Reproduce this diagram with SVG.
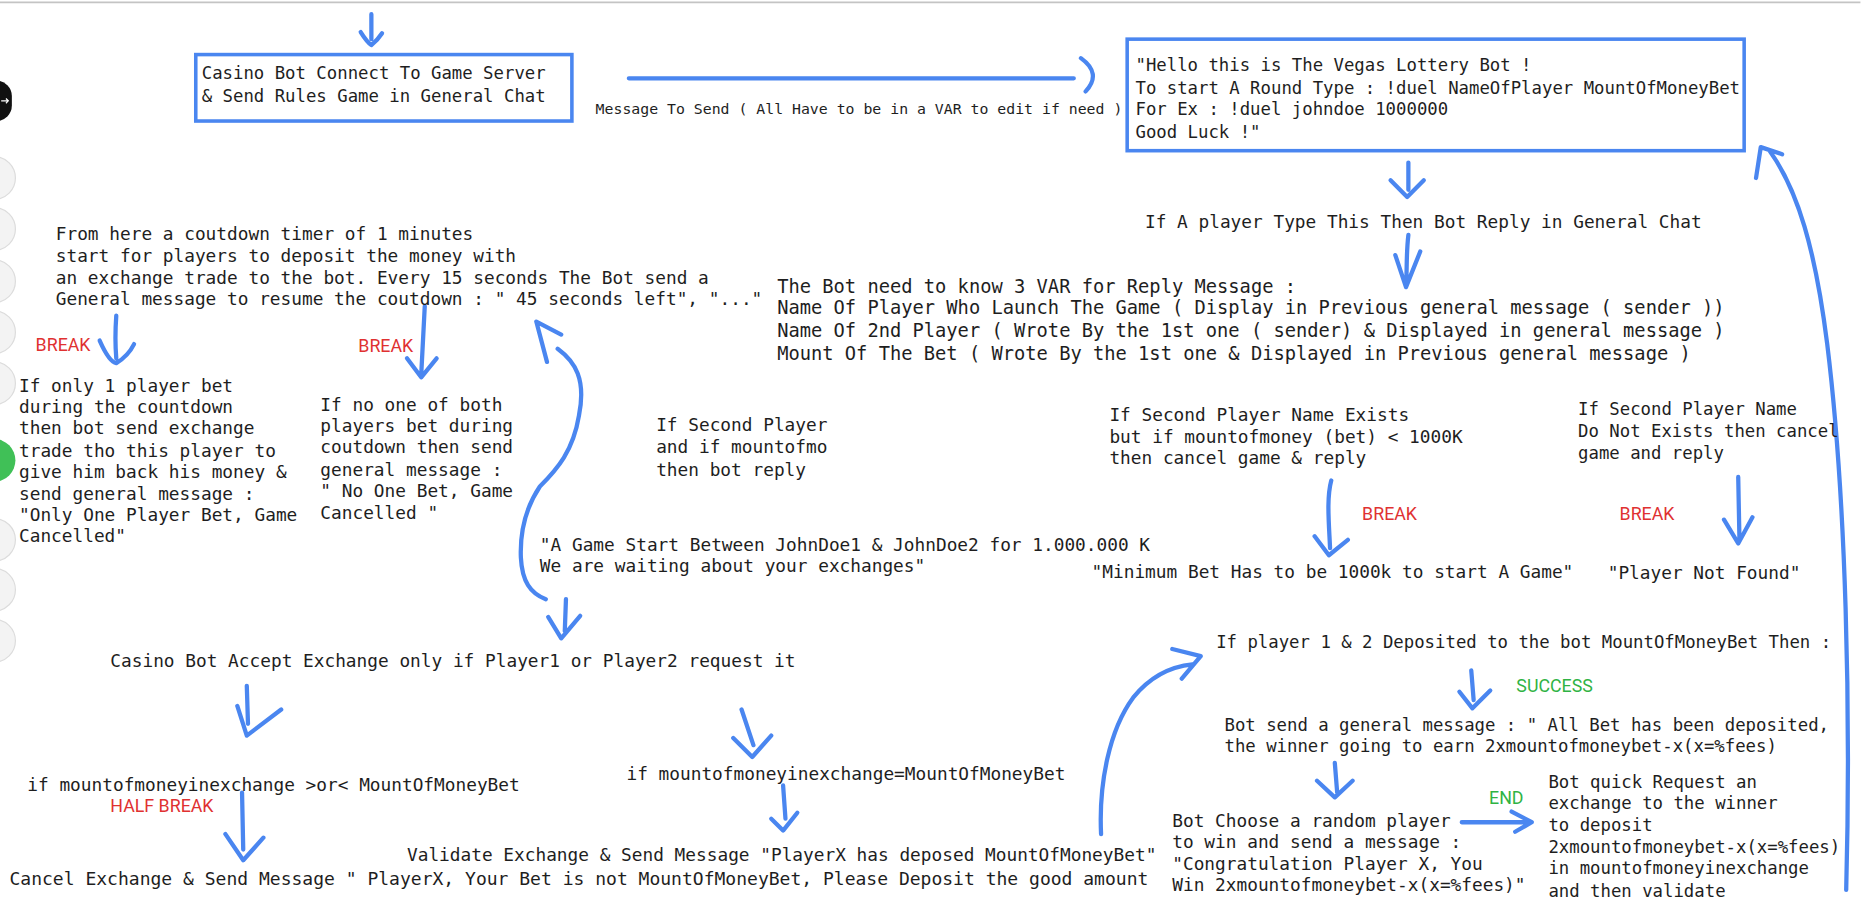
<svg xmlns="http://www.w3.org/2000/svg" width="1861" height="900" viewBox="0 0 1861 900">
<style>
.t{font-family:"DejaVu Sans Mono","Liberation Mono",monospace;font-size:15px;fill:#1e1e1e}
.n{font-family:"DejaVu Sans Mono","Liberation Mono",monospace;font-size:14.6px;fill:#1e1e1e}
.v{font-family:"DejaVu Sans Mono","Liberation Mono",monospace;font-size:15.8px;fill:#1e1e1e}
.s{font-family:"DejaVu Sans Mono","Liberation Mono",monospace;font-size:12.5px;fill:#1e1e1e}
.r{font-family:Roboto,"Liberation Sans",sans-serif;font-size:15px;fill:#e03131}
.g{font-family:Roboto,"Liberation Sans",sans-serif;font-size:15px;fill:#2fb344}
.box{fill:none;stroke:#4a86f0;stroke-width:3}
.a{fill:none;stroke:#4a86f0;stroke-width:3.6;stroke-linecap:round;stroke-linejoin:round}
.ui{fill:#f3f3f3;stroke:#dcdcdc;stroke-width:1}
</style>
<rect x="0" y="0" width="1861" height="900" fill="#ffffff"/>
<g transform="scale(1.1865)">
<line x1="0" y1="2" x2="1568" y2="2" stroke="#c4c4c4" stroke-width="1.5"/>
<g id="toolbar">
<rect x="-22" y="68" width="32" height="34" rx="13" fill="#111"/>
<path d="M1 85 L7 85 M5 83 L7 85 L5 87" stroke="#fff" stroke-width="1" fill="none"/>
<circle class="ui" cx="-5" cy="150" r="18"/>
<circle class="ui" cx="-5" cy="193" r="18"/>
<circle class="ui" cx="-5" cy="237" r="18"/>
<circle class="ui" cx="-5" cy="280" r="18"/>
<circle class="ui" cx="-5" cy="323" r="18"/>
<circle cx="-5" cy="388" r="18" fill="#40c057"/>
<circle class="ui" cx="-5" cy="455" r="18"/>
<circle class="ui" cx="-5" cy="497" r="18"/>
<circle class="ui" cx="-5" cy="540" r="18"/>
</g>
<g id="connectors">
<path class="a" d="M313 12 L313 33 M304 27 Q309 35 313 38 Q318 34 322 28"/>
<path class="a" d="M530 66 L905 66 M911 49 Q929 62 915 77"/>
<path class="a" d="M1187 137 L1187 160 M1172 152 L1186 166 L1200 152"/>
<path class="a" d="M1187 198 C1185 215 1186 228 1185 240 M1176 215 L1185 242 L1197 212"/>
<path class="a" d="M98 266 C97 280 97 290 98 302 M84 287 Q92 305 98 306 Q108 300 113 290"/>
<path class="a" d="M358 258 C357 280 356 300 355 316 M343 302 L355 318 L368 302"/>
<path class="a" d="M470 294 C485 305 494 320 488 350 C483 380 470 395 455 410 C445 425 438 445 439 470 C440 490 447 500 460 505 M461 305 L452 271 L473 282"/>
<path class="a" d="M477 505 L476 532 M462 520 L473 538 L489 519"/>
<path class="a" d="M1122 405 C1118 420 1120 440 1121 462 M1108 452 L1120 468 L1136 455"/>
<path class="a" d="M1465 402 L1466 453 M1453 438 L1465 458 L1477 436"/>
<path class="a" d="M1556 750 C1560 600 1556 420 1540 290 C1530 210 1515 160 1492 128 M1480 150 L1484 124 L1502 130"/>
<path class="a" d="M208 578 L209 610 M200 595 L208 620 L237 598"/>
<path class="a" d="M625 598 L635 628 M618 622 L634 638 L650 620"/>
<path class="a" d="M660 662 L662 690 M650 690 L660 700 L672 685"/>
<path class="a" d="M204 668 L205 716 M190 703 L205 725 L222 706"/>
<path class="a" d="M928 703 C926 660 935 615 955 588 C968 572 985 562 1005 560 M988 547 L1012 553 L996 572"/>
<path class="a" d="M1240 565 L1242 590 M1230 583 L1241 597 L1256 582"/>
<path class="a" d="M1125 643 L1127 668 M1110 658 L1125 672 L1140 658"/>
<path class="a" d="M1232 693 L1287 693 M1274 684 L1291 693 L1277 701"/>
</g>
<g id="n-connect">
<rect class="box" x="165" y="46" width="317" height="56"/>
<text class="n" x="170" y="67">Casino Bot Connect To Game Server</text>
<text class="n" x="170" y="86">&amp; Send Rules Game in General Chat</text>
</g>
<g id="n-msglabel">
<text class="s" x="502" y="96">Message To Send ( All Have to be in a VAR to edit if need )</text>
</g>
<g id="n-hello">
<rect class="box" x="950" y="33" width="520" height="94"/>
<text class="n" x="957" y="60">"Hello this is The Vegas Lottery Bot !</text>
<text class="n" x="957" y="79">To start A Round Type : !duel NameOfPlayer MountOfMoneyBet</text>
<text class="n" x="957" y="97">For Ex : !duel johndoe 1000000</text>
<text class="n" x="957" y="116">Good Luck !"</text>
</g>
<g id="n-iftype">
<text class="t" x="965" y="192">If A player Type This Then Bot Reply in General Chat</text>
</g>
<g id="n-var">
<text class="v" x="655" y="247">The Bot need to know 3 VAR for Reply Message :</text>
<text class="v" x="655" y="265">Name Of Player Who Launch The Game ( Display in Previous general message ( sender ))</text>
<text class="v" x="655" y="284">Name Of 2nd Player ( Wrote By the 1st one ( sender) &amp; Displayed in general message )</text>
<text class="v" x="655" y="303">Mount Of The Bet ( Wrote By the 1st one &amp; Displayed in Previous general message )</text>
</g>
<g id="n-countdown">
<text class="t" x="47" y="202">From here a coutdown timer of 1 minutes</text>
<text class="t" x="47" y="221">start for players to deposit the money with</text>
<text class="t" x="47" y="239">an exchange trade to the bot. Every 15 seconds The Bot send a</text>
<text class="t" x="47" y="257">General message to resume the coutdown : " 45 seconds left", "..."</text>
</g>
<g id="n-break1"><text class="r" x="30" y="296">BREAK</text></g>
<g id="n-onebet">
<text class="t" x="16" y="330">If only 1 player bet</text>
<text class="t" x="16" y="348">during the countdown</text>
<text class="t" x="16" y="366">then bot send exchange</text>
<text class="t" x="16" y="385">trade tho this player to</text>
<text class="t" x="16" y="403">give him back his money &amp;</text>
<text class="t" x="16" y="421">send general message :</text>
<text class="t" x="16" y="439">"Only One Player Bet, Game</text>
<text class="t" x="16" y="457">Cancelled"</text>
</g>
<g id="n-break2"><text class="r" x="302" y="297">BREAK</text></g>
<g id="n-nobet">
<text class="t" x="270" y="346">If no one of both</text>
<text class="t" x="270" y="364">players bet during</text>
<text class="t" x="270" y="382">coutdown then send</text>
<text class="t" x="270" y="401">general message :</text>
<text class="t" x="270" y="419">" No One Bet, Game</text>
<text class="t" x="270" y="437">Cancelled "</text>
</g>
<g id="n-second">
<text class="t" x="553" y="363">If Second Player</text>
<text class="t" x="553" y="382">and if mountofmo</text>
<text class="t" x="553" y="401">then bot reply</text>
</g>
<g id="n-gamestart">
<text class="t" x="455" y="464">"A Game Start Between JohnDoe1 &amp; JohnDoe2 for 1.000.000 K</text>
<text class="t" x="455" y="482">We are waiting about your exchanges"</text>
</g>
<g id="n-exists">
<text class="t" x="935" y="355">If Second Player Name Exists</text>
<text class="t" x="935" y="373">but if mountofmoney (bet) &lt; 1000K</text>
<text class="t" x="935" y="391">then cancel game &amp; reply</text>
</g>
<g id="n-break3"><text class="r" x="1148" y="438">BREAK</text></g>
<g id="n-minbet"><text class="t" x="920" y="487">"Minimum Bet Has to be 1000k to start A Game"</text></g>
<g id="n-notexists">
<text class="n" x="1330" y="350">If Second Player Name</text>
<text class="n" x="1330" y="368">Do Not Exists then cancel</text>
<text class="n" x="1330" y="387">game and reply</text>
</g>
<g id="n-break4"><text class="r" x="1365" y="438">BREAK</text></g>
<g id="n-notfound"><text class="t" x="1355" y="488">"Player Not Found"</text></g>
<g id="n-accept"><text class="t" x="93" y="562">Casino Bot Accept Exchange only if Player1 or Player2 request it</text></g>
<g id="n-ornot"><text class="t" x="23" y="667">if mountofmoneyinexchange &gt;or&lt; MountOfMoneyBet</text></g>
<g id="n-equal"><text class="t" x="528" y="657">if mountofmoneyinexchange=MountOfMoneyBet</text></g>
<g id="n-halfbreak"><text class="r" x="93" y="684">HALF BREAK</text></g>
<g id="n-validate"><text class="t" x="343" y="726">Validate Exchange &amp; Send Message "PlayerX has deposed MountOfMoneyBet"</text></g>
<g id="n-cancel"><text class="t" x="8" y="746" style="font-size:15.2px">Cancel Exchange &amp; Send Message " PlayerX, Your Bet is not MountOfMoneyBet, Please Deposit the good amount</text></g>
<g id="n-deposited"><text class="n" x="1025" y="546">If player 1 &amp; 2 Deposited to the bot MountOfMoneyBet Then :</text></g>
<g id="n-success"><text class="g" x="1278" y="583">SUCCESS</text></g>
<g id="n-allbet">
<text class="n" x="1032" y="616">Bot send a general message : " All Bet has been deposited,</text>
<text class="n" x="1032" y="634">the winner going to earn 2xmountofmoneybet-x(x=%fees)</text>
</g>
<g id="n-choose">
<text class="t" x="988" y="697">Bot Choose a random player</text>
<text class="t" x="988" y="715">to win and send a message :</text>
<text class="t" x="988" y="733">"Congratulation Player X, You</text>
<text class="t" x="988" y="751">Win 2xmountofmoneybet-x(x=%fees)"</text>
</g>
<g id="n-end"><text class="g" x="1255" y="678">END</text></g>
<g id="n-quick">
<text class="n" x="1305" y="664">Bot quick Request an</text>
<text class="n" x="1305" y="682">exchange to the winner</text>
<text class="n" x="1305" y="700">to deposit</text>
<text class="n" x="1305" y="719">2xmountofmoneybet-x(x=%fees)</text>
<text class="n" x="1305" y="737">in mountofmoneyinexchange</text>
<text class="n" x="1305" y="756">and then validate</text>
</g>
</g>
</svg>
